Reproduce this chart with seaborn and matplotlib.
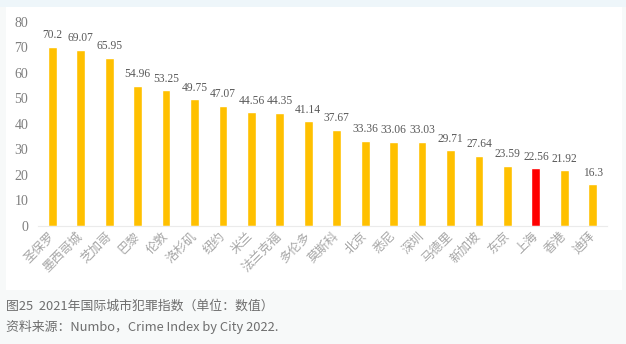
import matplotlib
matplotlib.use("Agg")
import matplotlib.pyplot as plt
import seaborn as sns
from matplotlib.patches import Rectangle

cities = ["圣保罗", "墨西哥城", "芝加哥", "巴黎", "伦敦", "洛杉矶", "纽约", "米兰",
          "法兰克福", "多伦多", "莫斯科", "北京", "悉尼", "深圳", "马德里", "新加坡",
          "东京", "上海", "香港", "迪拜"]
values = [70.2, 69.07, 65.95, 54.96, 53.25, 49.75, 47.07, 44.56, 44.35, 41.14,
          37.67, 33.36, 33.06, 33.03, 29.71, 27.64, 23.59, 22.56, 21.92, 16.3]
highlight = "上海"
yticks = [0, 10, 20, 30, 40, 50, 60, 70, 80]
title_text = "图25  2021年国际城市犯罪指数（单位：数值）"
source_text = "资料来源：Numbo，Crime Index by City 2022."

sns.set_theme(style="white")
plt.rcParams["font.family"] = ["Noto Sans CJK SC", "DejaVu Sans"]

W, H = 626, 344
fig = plt.figure(figsize=(W / 100, H / 100), dpi=100)
fig.patch.set_facecolor("#F7F9F9")

# page backgrounds: light blue strip on top, white chart panel
fig.patches.append(Rectangle((0, 1 - 7 / H), 1, 7 / H, transform=fig.transFigure,
                             facecolor="#EEF6FA", edgecolor="none", zorder=-2))
fig.patches.append(Rectangle((6 / W, 1 - 290 / H), (622 - 6) / W, (290 - 7) / H,
                             transform=fig.transFigure, facecolor="white",
                             edgecolor="none", zorder=-2))

ax = fig.add_axes([38 / W, 1 - 226 / H, (607 - 38) / W, (226 - 22) / H])
ax.set_facecolor("none")

colors = {c: ("#FF0000" if c == highlight else "#FFC000") for c in cities}
sns.barplot(x=cities, y=values, hue=cities, palette=colors, legend=False,
            width=0.31, ax=ax, saturation=1)

for cont in ax.containers:
    ax.bar_label(cont, labels=[f"{v:g}" for v in cont.datavalues], padding=4,
                 fontsize=8.3, color="#595959", fontfamily="Liberation Serif")

ax.set_ylim(0, 80)
ax.set_xlim(-0.5, len(cities) - 0.5)
ax.set_yticks(yticks)
ax.set_yticklabels([str(t) for t in yticks])
ax.tick_params(axis="y", length=0, pad=7, labelsize=10, labelcolor="#7F7F7F",
               labelfontfamily="Liberation Serif")
ax.tick_params(axis="x", length=0, pad=6)
ax.set_xticks(range(len(cities)))
ax.set_xticklabels(cities, rotation=45, ha="right", rotation_mode="anchor",
                   fontsize=9, color="#A6A6A6")
for lbl in ax.get_xticklabels():
    lbl.set_va("center")

for side in ["top", "right", "left"]:
    ax.spines[side].set_visible(False)
ax.spines["bottom"].set_color("#EBEBEB")
ax.spines["bottom"].set_linewidth(0.8)
ax.set_xlabel("")
ax.set_ylabel("")

fig.text(6 / W, 1 - 306 / H, title_text, fontsize=9.3, color="#6E6E6E",
         va="center", ha="left")
fig.text(6 / W, 1 - 327 / H, source_text, fontsize=9.3, color="#6E6E6E",
         va="center", ha="left")

fig.savefig("out.png", dpi=100, facecolor=fig.get_facecolor())
